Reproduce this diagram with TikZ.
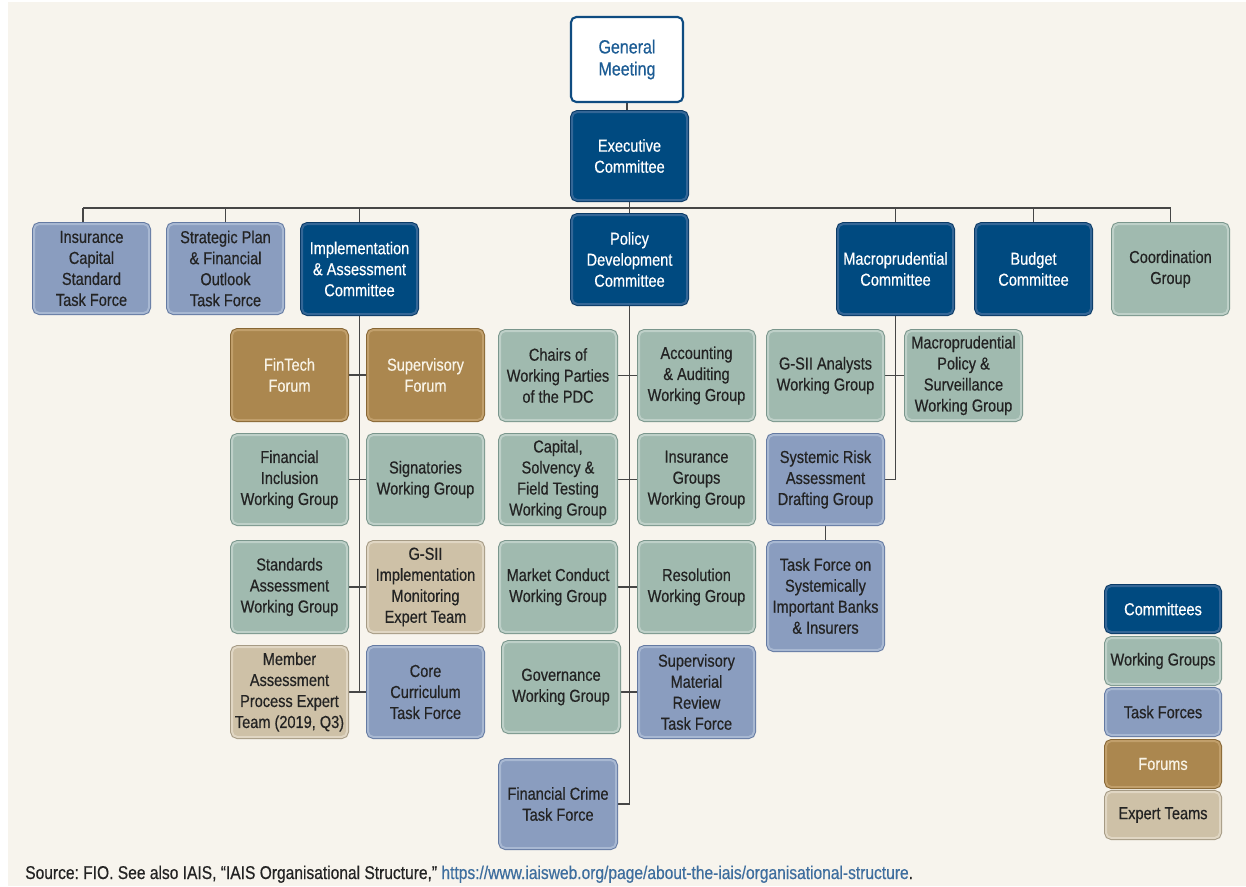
\documentclass[tikz,border=0pt]{standalone}
\usepackage{fontspec}
\setmainfont{Liberation Sans}[FakeStretch=0.84,FakeBold=0.5]
\usetikzlibrary{backgrounds}
\frenchspacing
\definecolor{bgcream}{RGB}{247,244,237}
\definecolor{comfill}{RGB}{0,74,128}
\definecolor{comring}{RGB}{52,102,150}
\definecolor{comdark}{RGB}{10,58,102}
\definecolor{wgfill}{RGB}{160,186,175}
\definecolor{wgring}{RGB}{190,208,200}
\definecolor{wgdark}{RGB}{122,150,140}
\definecolor{tffill}{RGB}{138,157,191}
\definecolor{tfring}{RGB}{168,184,210}
\definecolor{tfdark}{RGB}{100,122,162}
\definecolor{fofill}{RGB}{171,135,79}
\definecolor{foring}{RGB}{193,159,107}
\definecolor{fodark}{RGB}{135,102,52}
\definecolor{etfill}{RGB}{206,193,167}
\definecolor{etring}{RGB}{224,214,195}
\definecolor{etdark}{RGB}{165,154,132}
\definecolor{txtdark}{RGB}{35,35,35}
\definecolor{gmblue}{RGB}{28,92,148}
\definecolor{gmedge}{RGB}{15,76,129}
\definecolor{lncol}{RGB}{70,70,70}
\definecolor{urlblue}{RGB}{62,110,158}
\newcommand\boxfont{\fontsize{13}{15.75}\selectfont}
\newcommand\bx[7]{%
  \pgfmathsetmacro\bxw{(#5-#3)*0.75}%
  \pgfmathsetmacro\bxh{(#6-#4)*0.75}%
  \node[#2, minimum width=\bxw pt, minimum height=\bxh pt] (#1) at ({(#3+#5)/2},{(#4+#6)/2}) {#7};}
\tikzset{
  x=0.75pt, y=-0.75pt,
  basebox/.style={font=\boxfont, align=center, inner sep=0pt, rounded corners=4pt, line width=1.5pt},
  com/.style={basebox, fill=comfill, draw=comring, text=white, preaction={draw=comdark, line width=3pt, rounded corners=4pt}},
  wg/.style={basebox, fill=wgfill, draw=wgring, text=txtdark, preaction={draw=wgdark, line width=3pt, rounded corners=4pt}},
  tf/.style={basebox, fill=tffill, draw=tfring, text=txtdark, preaction={draw=tfdark, line width=3pt, rounded corners=4pt}},
  fo/.style={basebox, fill=fofill, draw=foring, text={rgb,255:red,248;green,243;blue,230}, preaction={draw=fodark, line width=3pt, rounded corners=4pt}},
  et/.style={basebox, fill=etfill, draw=etring, text=txtdark, preaction={draw=etdark, line width=3pt, rounded corners=4pt}},
  gmsty/.style={basebox, font=\fontsize{14.3}{16.5}\selectfont, fill=white, draw=gmedge, text=gmblue, line width=1.6pt},
  conn/.style={draw=lncol, line width=1.1pt},
}
\begin{document}
\begin{tikzpicture}
\useasboundingbox (0,0) rectangle (1246,886);
% nodes
\bx{gm}{gmsty}{571}{17}{683}{102}{General\\Meeting}
\bx{exec}{com}{572}{112}{687}{200}{Executive\\Committee}
\bx{ics}{tf}{34}{224}{149}{313}{Insurance\\Capital\\Standard\\Task Force}
\bx{spf}{tf}{168}{224}{283}{313}{Strategic Plan\\\& Financial\\Outlook\\Task Force}
\bx{iac}{com}{302}{224}{417}{314}{Implementation\\\& Assessment\\Committee}
\bx{pdc}{com}{572}{215}{687}{304}{Policy\\Development\\Committee}
\bx{mac}{com}{838}{224}{953}{314}{Macroprudential\\Committee}
\bx{bud}{com}{976}{224}{1091}{314}{Budget\\Committee}
\bx{cg}{wg}{1113}{224}{1228}{314}{Coordination\\Group}
% implementation column
\bx{fin}{fo}{232}{330}{347}{420}{FinTech\\Forum}
\bx{supf}{fo}{368}{330}{483}{420}{Supervisory\\Forum}
\bx{fiwg}{wg}{232}{435}{347}{524}{Financial\\Inclusion\\Working Group}
\bx{sigwg}{wg}{368}{435}{483}{524}{Signatories\\Working Group}
\bx{sawg}{wg}{232}{542}{347}{632}{Standards\\Assessment\\Working Group}
\bx{gsiiim}{et}{368}{542}{483}{632}{G-SII\\Implementation\\Monitoring\\Expert Team}
\bx{mape}{et}{232}{647}{347}{737}{Member\\Assessment\\Process Expert\\Team (2019, Q3)}
\bx{cctf}{tf}{368}{647}{483}{737}{Core\\Curriculum\\Task Force}
% policy column
\bx{cwp}{wg}{500}{331}{616}{420}{Chairs of\\Working Parties\\of the PDC}
\bx{aawg}{wg}{639}{331}{754}{420}{Accounting\\\& Auditing\\Working Group}
\bx{csft}{wg}{500}{435}{616}{524}{Capital,\\Solvency \&\\Field Testing\\Working Group}
\bx{igwg}{wg}{639}{435}{754}{524}{Insurance\\Groups\\Working Group}
\bx{mcwg}{wg}{500}{542}{616}{632}{Market Conduct\\Working Group}
\bx{rwg}{wg}{639}{542}{754}{632}{Resolution\\Working Group}
\bx{gov}{wg}{503}{642}{619}{732}{Governance\\Working Group}
\bx{smr}{tf}{639}{647}{754}{737}{Supervisory\\Material\\Review\\Task Force}
\bx{fctf}{tf}{500}{760}{616}{848}{Financial Crime\\Task Force}
% macro column
\bx{gsa}{wg}{768}{331}{883}{420}{G-SII Analysts\\Working Group}
\bx{mps}{wg}{906}{331}{1021}{420}{Macroprudential\\Policy \&\\Surveillance\\Working Group}
\bx{srad}{tf}{768}{435}{883}{524}{Systemic Risk\\Assessment\\Drafting Group}
\bx{tfsib}{tf}{768}{542}{883}{650}{Task Force on\\Systemically\\Important Banks\\\& Insurers}
% legend
\bx{lc}{com}{1106}{586}{1220}{632}{Committees}
\bx{lw}{wg}{1106}{638}{1220}{684}{Working Groups}
\bx{lt}{tf}{1106}{689}{1220}{735}{Task Forces}
\bx{lf}{fo}{1106}{741}{1220}{787}{Forums}
\bx{le}{et}{1106}{792}{1220}{838}{Expert Teams}
% source
\node[anchor=base west, inner sep=0pt, font=\fontsize{13.9}{16}\selectfont, text=txtdark] (src) at (25,879)
  {Source: FIO. See also IAIS, “IAIS Organisational Structure,” \textcolor{urlblue}{https://www.iaisweb.org/page/about-the-iais/organisational-structure}.};
% background and connectors
\begin{scope}[on background layer]
  \fill[white] (0,0) rectangle (1246,886);
  \fill[bgcream] (8,2) rectangle (1246,886);
  \coordinate (busL) at (83,208);
  \draw[conn] (busL) -- (busL -| cg.north);
  \draw[conn] (busL) -- (busL |- ics.north);
  \foreach \n in {spf,iac,mac,bud,cg} \draw[conn] (\n.north) -- (\n.north |- busL);
  \draw[conn] (gm.south) -- (gm.south |- exec.north);
  \draw[conn] (exec.south) -- (pdc.north);
  % implementation
  \draw[conn] (iac.south) -- (iac.south |- mape.east);
  \draw[conn] (fin.east) -- (supf.west);
  \draw[conn] (fiwg.east) -- (sigwg.west);
  \draw[conn] (sawg.east) -- (gsiiim.west);
  \draw[conn] (mape.east) -- (cctf.west);
  % policy
  \draw[conn] (pdc.south) -- (pdc.south |- fctf.east) -- (fctf.east);
  \draw[conn] (cwp.east) -- (aawg.west);
  \draw[conn] (csft.east) -- (igwg.west);
  \draw[conn] (mcwg.east) -- (rwg.west);
  \draw[conn] (smr.west) -- (smr.west -| gov.east);
  % macro
  \draw[conn] (mac.south) -- (mac.south |- srad.east) -- (srad.east);
  \draw[conn] (gsa.east) -- (mps.west);
  \draw[conn] (srad.south) -- (tfsib.north);
\end{scope}
\end{tikzpicture}
\end{document}
